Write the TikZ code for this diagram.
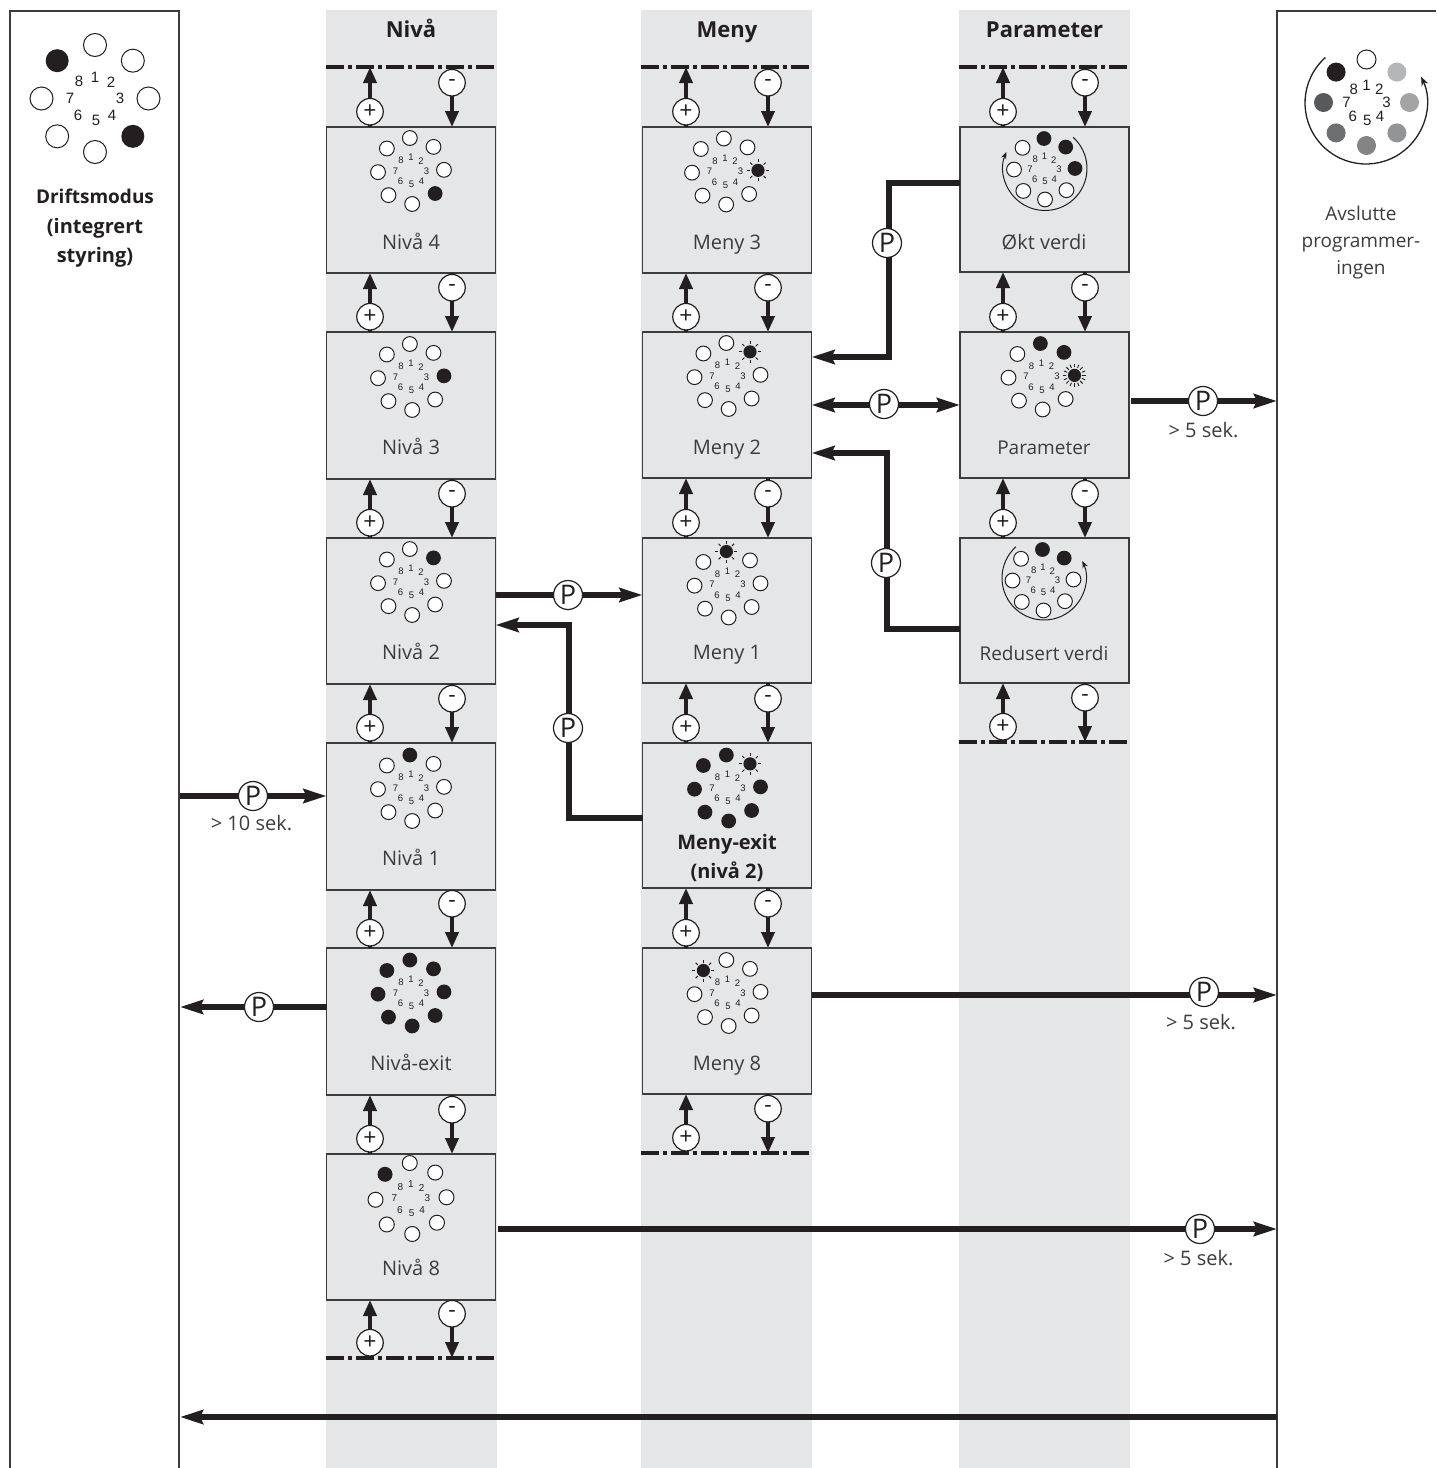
\documentclass[tikz,border=0pt]{standalone}
\usepackage{fontspec}
\setmainfont{Open Sans}
\newfontfamily\digfont{Liberation Sans}
\usetikzlibrary{arrows.meta}
\definecolor{band}{HTML}{E5E6E8}
\definecolor{ink}{HTML}{231F20}
\definecolor{soft}{HTML}{3C3C3E}
\definecolor{gA}{HTML}{B5B6B8}
\definecolor{gB}{HTML}{A3A4A6}
\definecolor{gC}{HTML}{939496}
\definecolor{gD}{HTML}{838486}
\definecolor{gE}{HTML}{6D6E70}
\definecolor{gF}{HTML}{58595B}
\newcount\dialno
\tikzset{
  x=1pt,y=-1pt,
  stbox/.style={draw=soft,line width=1.5pt,fill=band,minimum width=169pt,inner sep=0,outer sep=0},
  panel/.style={draw=soft,line width=1.5pt},
  headtext/.style={font=\bfseries\fontsize{22}{26}\selectfont,text=ink,anchor=base},
  lab/.style={font=\fontsize{20}{27}\selectfont,text=soft,align=center},
  lab19/.style={font=\fontsize{19}{27}\selectfont,text=soft,align=center},
  blab/.style={font=\bfseries\fontsize{20}{29.5}\selectfont,text=ink,align=center},
  sec/.style={font=\fontsize{20}{22}\selectfont,text=soft},
  dashln/.style={draw=ink,line width=3.2pt,dash pattern=on 17.5pt off 4pt on 4.5pt off 4pt},
  thick arr/.style={draw=ink,line width=5.6pt,-{Stealth[length=23pt,width=14pt,inset=3pt]}},
  thick dbl/.style={draw=ink,line width=5.6pt,{Stealth[length=23pt,width=14pt,inset=3pt]}-{Stealth[length=23pt,width=14pt,inset=3pt]}},
  small arr/.style={draw=ink,line width=3.8pt,-{Stealth[length=16pt,width=13pt,inset=0pt]}},
  small ln/.style={draw=ink,line width=3.8pt},
  btn/.style={circle,draw=ink,line width=1.2pt,fill=white,minimum size=26.5pt,inner sep=0,outer sep=0,text=ink,font=\fontsize{23}{23}\selectfont},
  pbtn/.style={circle,draw=ink,line width=1.2pt,fill=white,minimum size=29pt,inner sep=0,outer sep=0,text=ink,font=\fontsize{27}{27}\selectfont},
  holeo/.style={draw=ink,line width=1pt,fill=white},
  holef/.style={fill=ink},
  holeA/.style={fill=gA},
  holeB/.style={fill=gB},
  holeC/.style={fill=gC},
  holeD/.style={fill=gD},
  holeE/.style={fill=gE},
  holeF/.style={fill=gF},
  ray/.style={draw=ink,line width=.9pt},
  turn/.style={draw=ink,line width=1pt,-{Stealth[length=7pt,width=5.5pt]}},
  turnbig/.style={draw=ink,line width=1.3pt,-{Stealth[length=9pt,width=7pt]}},
}
\def\sunA{s}
\def\sunB{S}
% cx cy R rot digitscale fontsize holeradius spec
\newcommand{\dial}[8]{%
  \global\advance\dialno 1
  \foreach \st [count=\i] in {#8} {
    \pgfmathsetmacro\ang{(\i-1)*45+#4}
    \pgfmathsetmacro\px{#1+#3*sin(\ang)}
    \pgfmathsetmacro\py{#2-#3*cos(\ang)}
    \edef\tmpst{\st}
    \ifx\tmpst\sunA
      \fill[ink] (\px,\py) circle[radius=6.6pt];
      \foreach \b in {0,45,...,315}
        \draw[ray] ({\px+8*cos(\b)},{\py+8*sin(\b)}) -- ({\px+11*cos(\b)},{\py+11*sin(\b)});
    \else
      \ifx\tmpst\sunB
        \fill[ink] (\px,\py) circle[radius=6.6pt];
        \foreach \b in {0,22.5,...,337.5}
          \draw[ray] ({\px+8*cos(\b)},{\py+8*sin(\b)}) -- ({\px+11.5*cos(\b)},{\py+11.5*sin(\b)});
      \else
        \path[hole\st] (\px,\py) circle[radius=#7pt];
      \fi
    \fi
    \pgfmathsetmacro\dx{{0,16,25,17,1,-17,-25,-16}[\i-1]}
    \pgfmathsetmacro\dy{{-21.5,-16,0,17,22,17,0,-17}[\i-1]}
    \node[inner sep=0,text=ink,font=\digfont\fontsize{#6}{#6}\selectfont] (dg\the\dialno n\i) at ({#1+#5*\dx},{#2+#5*\dy}) {\i};
  }%
}
\newcommand{\sdial}[3]{\dial{#1}{#2}{33}{-2}{.62}{9.5}{7.4}{#3}}
\newcommand{\pdial}[3]{\dial{#1}{#2}{30.5}{-1}{.58}{9.5}{7.4}{#3}}
% cx cy R start end style
\newcommand{\dialarc}[6]{\draw[#6] ({#1+#3*cos(#4)},{#2-#3*sin(#4)}) arc[start angle=#4,end angle=#5,radius=#3pt];}
% name cx top height
\newcommand{\stnode}[4]{\node[stbox,minimum height=#4pt] (#1) at (#2,{#3+#4/2}) {};}
% id xplus xminus upper lower ylower
\newcommand{\updown}[6]{%
  \node[btn] (pl#1) at (#2,{#6-15.3}) {+};
  \node[btn] (mi#1) at (#3,{#6-44.3}) {-};
  \draw[small arr] (pl#1.north) -- (pl#1 |- #4);
  \draw[small ln] (pl#1.south) -- (pl#1 |- #5);
  \draw[small arr] (mi#1.south) -- (mi#1 |- #5);
  \draw[small ln] (mi#1.north) -- (mi#1 |- #4);
}
\begin{document}
\begin{tikzpicture}
\useasboundingbox (0,0) rectangle (1436,1468);
\fill[white] (0,0) rectangle (1436,1468);
% bands
\fill[band] (326,10) rectangle (497,1468);
\fill[band] (641,10) rectangle (812,1468);
\fill[band] (959,10) rectangle (1130,1468);
% panels
\draw[panel] (10,1468) -- (10,11) -- (179,11) -- (179,1468);
\draw[panel] (1277,1468) -- (1277,11) -- (1436,11);
% headers
\node[headtext] (hn) at (411,37) {Nivå};
\node[headtext] (hm) at (727,37) {Meny};
\node[headtext] (hp) at (1044.5,37) {Parameter};
% boxes
\stnode{nv4}{411}{127}{146}
\stnode{nv3}{411}{332}{147}
\stnode{nv2}{411}{538}{146}
\stnode{nv1}{411}{743}{147}
\stnode{nvx}{411}{948}{147}
\stnode{nv8}{411}{1154}{146}
\stnode{mn3}{727}{127}{146}
\stnode{mn2}{727}{332}{146}
\stnode{mn1}{727}{538}{145}
\stnode{mnx}{727}{743}{145}
\stnode{mn8}{727}{948}{146}
\stnode{pu}{1044.5}{127}{145}
\stnode{pm}{1044.5}{332}{146}
\stnode{pd}{1044.5}{538}{145}
% dash lines
\coordinate (ta) at (326,67); \coordinate (tb) at (497,67);
\coordinate (tc) at (641,67); \coordinate (td) at (812,67);
\coordinate (te) at (959,67); \coordinate (tf) at (1130,67);
\coordinate (ba) at (326,1358); \coordinate (bb) at (497,1358);
\coordinate (bc) at (641,1153); \coordinate (bd) at (812,1153);
\coordinate (be) at (959,742); \coordinate (bf) at (1130,742);
\draw[dashln] (ta) -- (tb);
\draw[dashln] (tc) -- (td);
\draw[dashln] (te) -- (tf);
\draw[dashln] (ba) -- (bb);
\draw[dashln] (bc) -- (bd);
\draw[dashln] (be) -- (bf);
% + / - pairs
\updown{a}{370}{452}{ta}{nv4.north}{127}
\updown{b}{370}{452}{nv4.south}{nv3.north}{332}
\updown{c}{370}{452}{nv3.south}{nv2.north}{538}
\updown{d}{370}{452}{nv2.south}{nv1.north}{743}
\updown{e}{370}{452}{nv1.south}{nvx.north}{948}
\updown{f}{370}{452}{nvx.south}{nv8.north}{1154}
\updown{g}{370}{452}{nv8.south}{ba}{1358}
\updown{h}{686}{768}{tc}{mn3.north}{127}
\updown{i}{686}{768}{mn3.south}{mn2.north}{332}
\updown{j}{686}{768}{mn2.south}{mn1.north}{538}
\updown{k}{686}{768}{mn1.south}{mnx.north}{743}
\updown{l}{686}{768}{mnx.south}{mn8.north}{948}
\updown{m}{686}{768}{mn8.south}{bc}{1153}
\updown{n}{1003}{1085}{te}{pu.north}{127}
\updown{o}{1003}{1085}{pu.south}{pm.north}{332}
\updown{p}{1003}{1085}{pm.south}{pd.north}{538}
\updown{q}{1003}{1085}{pd.south}{be}{742}
% dials
\dial{95}{98.5}{53.5}{0}{1}{15}{11.5}{o,o,o,f,o,o,o,f}
\sdial{411}{171}{o,o,o,f,o,o,o,o}
\sdial{411}{377}{o,o,f,o,o,o,o,o}
\sdial{411}{582}{o,f,o,o,o,o,o,o}
\sdial{411}{788}{f,o,o,o,o,o,o,o}
\sdial{411}{993}{f,f,f,f,f,f,f,f}
\dial{411}{1198.5}{35.5}{-2}{.66}{10}{7.5}{o,o,o,o,o,o,o,f}
\sdial{725}{171.5}{o,o,s,o,o,o,o,o}
\sdial{727.5}{376}{o,s,o,o,o,o,o,o}
\sdial{727.5}{584.5}{s,o,o,o,o,o,o,o}
\sdial{727.5}{788}{f,s,f,f,f,f,f,f}
\sdial{727.5}{993}{o,o,o,o,o,o,o,s}
\pdial{1044.5}{169}{f,f,f,o,o,o,o,o}
\sdial{1041.5}{376.5}{f,f,S,o,o,o,o,o}
\pdial{1043}{580}{f,f,o,o,o,o,o,o}
\dial{1366.5}{102.5}{43}{0}{.8}{15}{9.5}{o,A,B,C,D,E,F,f}
\dialarc{1045}{168.5}{42}{48}{-203}{turn}
\dialarc{1044}{578}{42}{132}{384}{turn}
\dialarc{1366}{103}{61}{131.7}{385.5}{turnbig}
% box labels
\node[lab,anchor=base] (l1) at (411,249) {Nivå 4};
\node[lab,anchor=base] (l2) at (411,454) {Nivå 3};
\node[lab,anchor=base] (l3) at (411,659) {Nivå 2};
\node[lab,anchor=base] (l4) at (411,865) {Nivå 1};
\node[lab,anchor=base] (l5) at (411,1070) {Nivå-exit};
\node[lab,anchor=base] (l6) at (411,1275) {Nivå 8};
\node[lab,anchor=base] (l7) at (727,249) {Meny 3};
\node[lab,anchor=base] (l8) at (727,454) {Meny 2};
\node[lab,anchor=base] (l9) at (727,659) {Meny 1};
\node[lab,anchor=base] (l10) at (727,1070) {Meny 8};
\node[lab,anchor=base] (l11) at (1044,249) {Økt verdi};
\node[lab19,anchor=base] (l12) at (1044,454) {Parameter};
\node[lab19,anchor=base] (l13) at (1044,660) {Redusert verdi};
\node[blab] (l14) at (727,858) {Meny-exit\\(nivå 2)};
\node[blab] (l15) at (95,228.5) {{\fontsize{19}{29.5}\selectfont Driftsmodus}\\(integrert\\styring)};
\node[lab19] (l16) at (1361,243) {Avslutte\\programmer-\\ingen};
% connector end points
\coordinate (ca) at (180,796);
\coordinate (cb) at (180,1007);
\coordinate (cc) at (1277,1229);
\coordinate (cd) at (1277,995);
\coordinate (ce) at (1277,401);
\coordinate (cf) at (1277,1417);
\coordinate (cg) at (180,1417);
\coordinate (ch) at (889,183);
\coordinate (ci) at (889,357);
\coordinate (cj) at (887,629);
\coordinate (ck) at (887,453);
\coordinate (cl) at (569,818);
\coordinate (cm) at (569,625);
\coordinate (cn) at (884,405);
\coordinate (co) at (568,595);
% connectors
\draw[thick arr] (ca) -- (nv1.west |- ca);
\draw[thick arr] (nvx.west |- cb) -- (cb);
\draw[thick arr] (nv8.east |- cc) ++(2,0) -- (cc);
\draw[thick arr] (mn8.east |- cd) -- (cd);
\draw[thick arr] (pm.east |- ce) ++(2,0) -- (ce);
\draw[thick arr] (cf) -- (cg);
\draw[thick arr] (pu.west |- ch) -- (ch) -- (ci) -- (mn2.east |- ci);
\draw[thick arr] (pd.west |- cj) -- (cj) -- (ck) -- (mn2.east |- ck);
\draw[thick arr] (mnx.west |- cl) -- (cl) -- (cm) -- (nv2.east |- cm);
\draw[thick dbl] (mn2.east |- cn) -- (pm.west |- cn);
\draw[thick arr] (nv2.east |- co) -- (mn1.west |- co);
% P buttons
\node[pbtn] (p1) at (253,796) {P};
\node[pbtn] (p2) at (259,1007) {P};
\node[pbtn] (p3) at (1200,1229) {P};
\node[pbtn] (p4) at (1204,992) {P};
\node[pbtn] (p5) at (1203,401) {P};
\node[pbtn] (p6) at (887,243) {P};
\node[pbtn] (p7) at (886,563) {P};
\node[pbtn] (p8) at (568,728) {P};
\node[pbtn] (p9) at (884,404) {P};
\node[pbtn] (p10) at (568,595) {P};
% delays
\node[sec] (s1) at (251.5,823) {> 10 sek.};
\node[sec] (s2) at (1198.5,1258) {> 5 sek.};
\node[sec] (s3) at (1201,1022) {> 5 sek.};
\node[sec] (s4) at (1203.5,430) {> 5 sek.};
\end{tikzpicture}
\end{document}
